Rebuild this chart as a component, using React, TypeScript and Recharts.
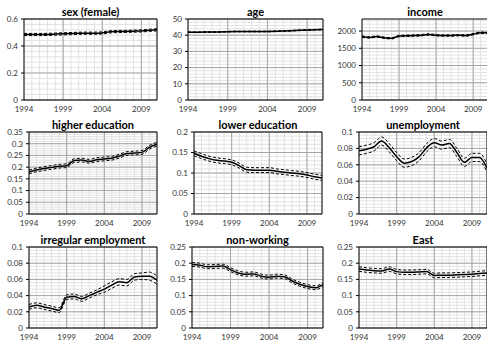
import { LineChart, Line, XAxis, YAxis, CartesianGrid, ReferenceLine } from 'recharts';

const years = [1994, 1995, 1996, 1997, 1998, 1999, 2000, 2001, 2002, 2003, 2004, 2005, 2006, 2007, 2008, 2009, 2010, 2011];
const yearTicks = [1994, 1999, 2004, 2009];
const majorYears = [1999, 2004, 2009];

const sexMid = [0.485, 0.485, 0.485, 0.486, 0.488, 0.49, 0.492, 0.494, 0.495, 0.495, 0.497, 0.505, 0.507, 0.508, 0.51, 0.512, 0.516, 0.52];
const sexHi = [0.493, 0.493, 0.493, 0.494, 0.496, 0.498, 0.5, 0.502, 0.503, 0.503, 0.505, 0.513, 0.515, 0.516, 0.518, 0.52, 0.524, 0.528];
const sexLo = [0.477, 0.477, 0.477, 0.478, 0.48, 0.482, 0.484, 0.486, 0.487, 0.487, 0.489, 0.497, 0.499, 0.5, 0.502, 0.504, 0.508, 0.512];

const ageMid = [41.8, 41.8, 41.9, 41.9, 42.0, 42.2, 42.3, 42.3, 42.3, 42.3, 42.3, 42.4, 42.6, 42.8, 43.0, 43.2, 43.4, 43.5];
const ageHi = [42.0, 42.0, 42.1, 42.1, 42.2, 42.4, 42.5, 42.5, 42.5, 42.5, 42.5, 42.6, 42.8, 43.0, 43.2, 43.4, 43.6, 43.7];
const ageLo = [41.6, 41.6, 41.7, 41.7, 41.8, 42.0, 42.1, 42.1, 42.1, 42.1, 42.1, 42.2, 42.4, 42.6, 42.8, 43.0, 43.2, 43.3];

const incomeMid = [1840, 1815, 1840, 1805, 1790, 1855, 1865, 1870, 1880, 1900, 1880, 1870, 1870, 1880, 1870, 1910, 1950, 1950];
const incomeHi = [1860, 1835, 1860, 1825, 1810, 1875, 1885, 1890, 1900, 1920, 1900, 1890, 1890, 1900, 1890, 1930, 1970, 1970];
const incomeLo = [1820, 1795, 1820, 1785, 1770, 1835, 1845, 1850, 1860, 1880, 1860, 1850, 1850, 1860, 1850, 1890, 1930, 1930];

const higherMid = [0.18, 0.188, 0.194, 0.199, 0.204, 0.206, 0.228, 0.23, 0.225, 0.232, 0.235, 0.238, 0.247, 0.258, 0.26, 0.263, 0.285, 0.298];
const higherHi = [0.188, 0.196, 0.202, 0.207, 0.212, 0.214, 0.236, 0.238, 0.233, 0.24, 0.243, 0.246, 0.255, 0.266, 0.268, 0.271, 0.293, 0.306];
const higherLo = [0.172, 0.18, 0.186, 0.191, 0.196, 0.198, 0.22, 0.222, 0.217, 0.224, 0.227, 0.23, 0.239, 0.25, 0.252, 0.255, 0.277, 0.29];

const lowerMid = [0.148, 0.141, 0.135, 0.131, 0.129, 0.126, 0.118, 0.108, 0.107, 0.107, 0.107, 0.104, 0.102, 0.1, 0.098, 0.095, 0.091, 0.088];
const lowerHi = [0.154, 0.147, 0.141, 0.137, 0.135, 0.132, 0.124, 0.114, 0.113, 0.113, 0.113, 0.11, 0.108, 0.106, 0.104, 0.101, 0.097, 0.094];
const lowerLo = [0.142, 0.135, 0.129, 0.125, 0.123, 0.12, 0.112, 0.102, 0.101, 0.101, 0.101, 0.098, 0.096, 0.094, 0.092, 0.089, 0.085, 0.082];

const unempMid = [0.077, 0.079, 0.082, 0.089, 0.081, 0.07, 0.062, 0.064, 0.07, 0.081, 0.087, 0.084, 0.086, 0.075, 0.063, 0.069, 0.069, 0.056];
const unempHi = [0.082, 0.084, 0.087, 0.094, 0.086, 0.075, 0.067, 0.069, 0.075, 0.086, 0.092, 0.089, 0.091, 0.08, 0.068, 0.074, 0.074, 0.061];
const unempLo = [0.072, 0.074, 0.077, 0.084, 0.076, 0.065, 0.057, 0.059, 0.065, 0.076, 0.082, 0.079, 0.081, 0.07, 0.058, 0.064, 0.064, 0.051];

const irregMid = [0.026, 0.028, 0.026, 0.024, 0.022, 0.038, 0.039, 0.036, 0.04, 0.044, 0.048, 0.053, 0.057, 0.056, 0.063, 0.064, 0.064, 0.059];
const irregHi = [0.029, 0.031, 0.029, 0.027, 0.025, 0.041, 0.042, 0.039, 0.043, 0.047, 0.052, 0.057, 0.061, 0.06, 0.067, 0.068, 0.069, 0.064];
const irregLo = [0.023, 0.025, 0.023, 0.021, 0.019, 0.035, 0.036, 0.033, 0.037, 0.041, 0.044, 0.049, 0.053, 0.052, 0.059, 0.06, 0.059, 0.054];

const nonworkMid = [0.196, 0.194, 0.189, 0.19, 0.191, 0.18, 0.17, 0.166, 0.167, 0.16, 0.157, 0.16, 0.158, 0.145, 0.135, 0.128, 0.124, 0.134];
const nonworkHi = [0.202, 0.2, 0.195, 0.196, 0.197, 0.186, 0.176, 0.172, 0.173, 0.166, 0.163, 0.166, 0.164, 0.151, 0.141, 0.134, 0.13, 0.14];
const nonworkLo = [0.19, 0.188, 0.183, 0.184, 0.185, 0.174, 0.164, 0.16, 0.161, 0.154, 0.151, 0.154, 0.152, 0.139, 0.129, 0.122, 0.118, 0.128];

const eastMid = [0.182, 0.179, 0.177, 0.176, 0.182, 0.174, 0.172, 0.172, 0.173, 0.174, 0.162, 0.163, 0.163, 0.164, 0.165, 0.166, 0.168, 0.17];
const eastHi = [0.189, 0.186, 0.184, 0.183, 0.189, 0.181, 0.179, 0.179, 0.18, 0.181, 0.169, 0.17, 0.17, 0.171, 0.172, 0.173, 0.175, 0.177];
const eastLo = [0.175, 0.172, 0.17, 0.169, 0.175, 0.167, 0.165, 0.165, 0.166, 0.167, 0.155, 0.156, 0.156, 0.157, 0.158, 0.159, 0.161, 0.163];

interface PanelSpec {
  title: string;
  mid: number[];
  hi: number[];
  lo: number[];
  ticks: number[];
  max: number;
  minor: number;
  x: number;
  y: number;
  w: number;
  h: number;
}

const panels: PanelSpec[] = [
  { title: 'sex (female)', mid: sexMid, hi: sexHi, lo: sexLo, ticks: [0, 0.2, 0.4, 0.6], max: 0.6, minor: 0.04, x: 24, y: 19, w: 133, h: 81 },
  { title: 'age', mid: ageMid, hi: ageHi, lo: ageLo, ticks: [0, 10, 20, 30, 40, 50], max: 50, minor: 2, x: 188, y: 19, w: 135, h: 81 },
  { title: 'income', mid: incomeMid, hi: incomeHi, lo: incomeLo, ticks: [0, 500, 1000, 1500, 2000], max: 2350, minor: 100, x: 362, y: 19, w: 126, h: 81 },
  { title: 'higher education', mid: higherMid, hi: higherHi, lo: higherLo, ticks: [0, 0.05, 0.1, 0.15, 0.2, 0.25, 0.3, 0.35], max: 0.35, minor: 0.01, x: 29, y: 132, w: 128, h: 82 },
  { title: 'lower education', mid: lowerMid, hi: lowerHi, lo: lowerLo, ticks: [0, 0.05, 0.1, 0.15, 0.2], max: 0.2, minor: 0.01, x: 194, y: 132, w: 128, h: 82 },
  { title: 'unemployment', mid: unempMid, hi: unempHi, lo: unempLo, ticks: [0, 0.02, 0.04, 0.06, 0.08, 0.1], max: 0.1, minor: 0.004, x: 359, y: 132, w: 128, h: 82 },
  { title: 'irregular employment', mid: irregMid, hi: irregHi, lo: irregLo, ticks: [0, 0.02, 0.04, 0.06, 0.08, 0.1], max: 0.1, minor: 0.004, x: 29, y: 247, w: 128, h: 81 },
  { title: 'non-working', mid: nonworkMid, hi: nonworkHi, lo: nonworkLo, ticks: [0, 0.05, 0.1, 0.15, 0.2, 0.25], max: 0.25, minor: 0.01, x: 192, y: 247, w: 131, h: 81 },
  { title: 'East', mid: eastMid, hi: eastHi, lo: eastLo, ticks: [0, 0.05, 0.1, 0.15, 0.2, 0.25], max: 0.25, minor: 0.01, x: 359, y: 247, w: 128, h: 81 },
];

const FONT = 'Lato, "Open Sans", sans-serif';

function Panel({ p }: { p: PanelSpec }) {
  const data = years.map((year, i) => ({ year, mid: p.mid[i], hi: p.hi[i], lo: p.lo[i] }));
  // minor gridlines between the labelled ticks
  const minorY: number[] = [];
  for (let k = 1; k * p.minor < p.max - 1e-9; k++) minorY.push(+(k * p.minor).toFixed(6));
  const yW = 40;
  const mT = 4;
  const mR = 4;
  const xH = 18;
  const tick = { fontSize: 8, fill: '#333', fontFamily: FONT };
  return (
    <>
      <div
        style={{
          position: 'absolute',
          left: p.x - 20,
          top: p.y - 14,
          width: p.w + 40,
          textAlign: 'center',
          font: `bold 11px ${FONT}`,
          lineHeight: '13px',
          color: '#000',
          whiteSpace: 'nowrap',
        }}
      >
        {p.title}
      </div>
      <div style={{ position: 'absolute', left: p.x - yW, top: p.y - mT }}>
        <LineChart
          width={yW + p.w + mR}
          height={mT + p.h + xH}
          data={data}
          margin={{ top: mT, right: mR, bottom: 0, left: 0 }}
        >
          <CartesianGrid horizontalValues={minorY} verticalValues={years} stroke="#e2e2e2" />
          <CartesianGrid horizontalValues={p.ticks} verticalValues={majorYears} stroke="#a6a6a6" />
          <XAxis
            dataKey="year"
            type="number"
            domain={[1994, 2011]}
            ticks={yearTicks}
            allowDataOverflow
            height={xH}
            tickLine={false}
            tickSize={3}
            tickMargin={3}
            axisLine={{ stroke: '#000' }}
            tick={tick}
            interval={0}
          />
          <YAxis
            type="number"
            domain={[0, p.max]}
            ticks={p.ticks}
            allowDataOverflow
            width={yW}
            tickSize={3}
            tickMargin={3}
            tickLine={{ stroke: '#000' }}
            axisLine={{ stroke: '#000' }}
            tick={tick}
            interval={0}
          />
          <ReferenceLine y={p.max} stroke="#000" />
          <ReferenceLine x={2011} stroke="#000" />
          <Line dataKey="hi" type="monotone" stroke="#000" strokeWidth={1} strokeDasharray="3 2" dot={false} isAnimationActive={false} />
          <Line dataKey="lo" type="monotone" stroke="#000" strokeWidth={1} strokeDasharray="3 2" dot={false} isAnimationActive={false} />
          <Line dataKey="mid" type="monotone" stroke="#000" strokeWidth={1.5} dot={false} isAnimationActive={false} />
        </LineChart>
      </div>
    </>
  );
}

export default function App() {
  return (
    <div
      style={{
        position: 'absolute',
        left: 0,
        top: 0,
        width: 487,
        height: 342,
        overflow: 'hidden',
        background: '#fff',
        fontFamily: FONT,
      }}
    >
      {panels.map((p) => (
        <Panel key={p.title} p={p} />
      ))}
    </div>
  );
}
